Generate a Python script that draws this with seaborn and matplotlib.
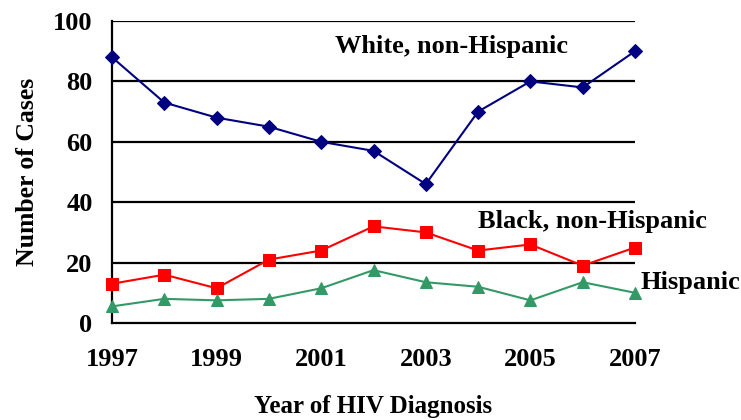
import matplotlib
matplotlib.use("Agg")
import matplotlib.pyplot as plt
import seaborn as sns
import pandas as pd

years = [1997, 1998, 1999, 2000, 2001, 2002, 2003, 2004, 2005, 2006, 2007]
white = [88, 73, 68, 65, 60, 57, 46, 70, 80, 78, 90]
black = [13, 16, 11.5, 21, 24, 32, 30, 24, 26, 19, 25]
hispanic = [5.5, 8, 7.5, 8, 11.5, 17.5, 13.5, 12, 7.5, 13.5, 10]
series_names = ["White, non-Hispanic", "Black, non-Hispanic", "Hispanic"]
yticks = [0, 20, 40, 60, 80, 100]
xticks = [1997, 1999, 2001, 2003, 2005, 2007]

sns.set_style("white")
plt.rcParams["font.family"] = ["Liberation Serif", "DejaVu Serif"]
plt.rcParams["font.weight"] = "bold"
plt.rcParams["text.color"] = "black"
plt.rcParams["axes.labelcolor"] = "black"
plt.rcParams["xtick.color"] = "black"
plt.rcParams["ytick.color"] = "black"

df = pd.DataFrame({
    "Year": years * 3,
    "Cases": white + black + hispanic,
    "Group": [series_names[0]] * len(years) + [series_names[1]] * len(years) + [series_names[2]] * len(years),
})

fig = plt.figure(figsize=(7.41, 4.2), dpi=100)
ax = fig.add_axes([112 / 741, 1 - 323 / 420, (635 - 112) / 741, (323 - 21) / 420])

colors = {series_names[0]: "#000080", series_names[1]: "#FF0000", series_names[2]: "#339966"}
markers = {series_names[0]: "D", series_names[1]: "s", series_names[2]: "^"}
sizes = {series_names[0]: 7, series_names[1]: 9, series_names[2]: 9}

for ytk in yticks[1:]:
    ax.axhline(ytk, color="black", lw=1.6, zorder=1)

for name in series_names:
    sub = df[df["Group"] == name]
    sns.lineplot(data=sub, x="Year", y="Cases", ax=ax, color=colors[name],
                 marker=markers[name], markersize=sizes[name], markeredgecolor=colors[name],
                 lw=1.5, legend=False, zorder=3, clip_on=False)

ax.set_xlim(1997, 2007)
ax.set_ylim(0, 100)
ax.set_xticks(years)
ax.set_xticklabels([str(y) if y in xticks else "" for y in years])
ax.set_yticks(yticks)
ax.set_yticklabels([str(v) for v in yticks])
ax.tick_params(axis="x", direction="out", length=8, width=1.5, labelsize=19, pad=10)
ax.tick_params(axis="y", direction="out", length=6, width=1.5, labelsize=19, pad=8)
for lab in ax.get_xticklabels() + ax.get_yticklabels():
    lab.set_fontweight("bold")

for s in ["top", "right"]:
    ax.spines[s].set_visible(False)
for s in ["left", "bottom"]:
    ax.spines[s].set_color("black")
    ax.spines[s].set_linewidth(1.6)

ax.set_xlabel("Year of HIV Diagnosis", fontsize=18, fontweight="bold", labelpad=17)
ax.set_ylabel("Number of Cases", fontsize=18.5, fontweight="bold", labelpad=10)

ax.text(2003.5, 91.5, series_names[0], ha="center", va="center", fontsize=19, fontweight="bold")
ax.text(2004.0, 33.5, series_names[1], ha="left", va="center", fontsize=19, fontweight="bold", clip_on=False)
ax.text(2007.1, 13.3, series_names[2], ha="left", va="center", fontsize=19, fontweight="bold", clip_on=False)

fig.savefig("out.png", dpi=100)
